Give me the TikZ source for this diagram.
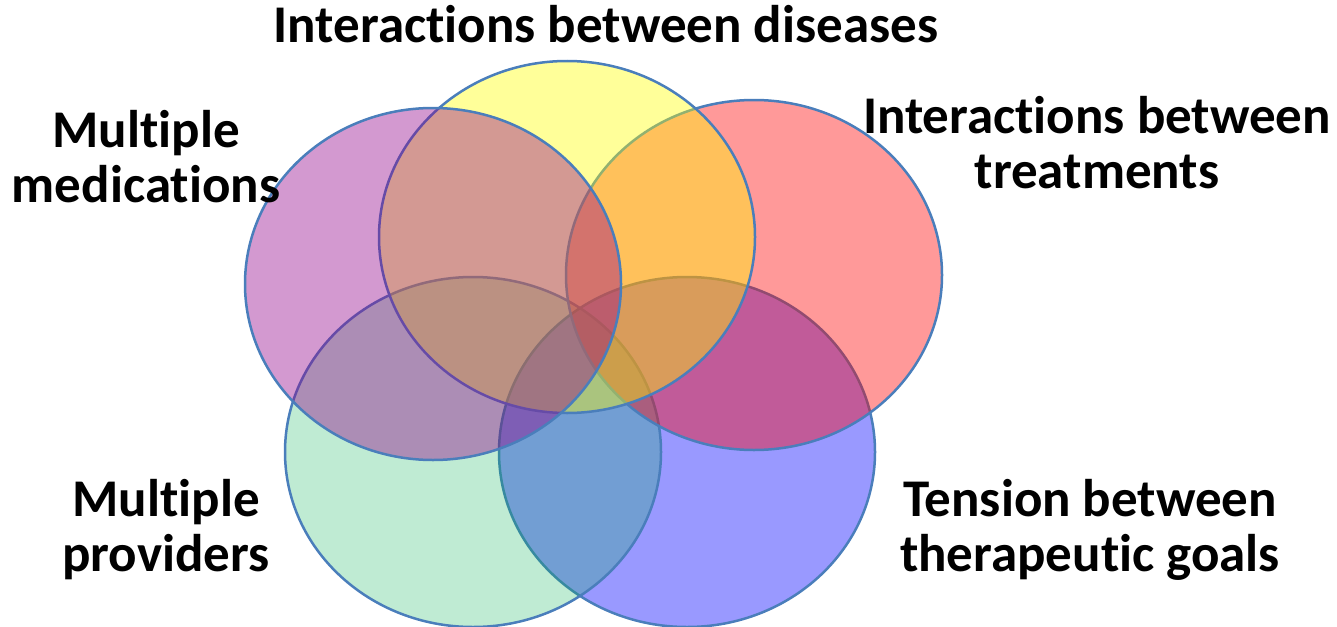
\documentclass[tikz,border=0pt]{standalone}
\usepackage{fontspec}
\setmainfont{Carlito}[Ligatures={NoCommon}]
\usetikzlibrary{shapes.geometric}
\definecolor{outl}{HTML}{4A7EBB}
\definecolor{cyel}{HTML}{FFFF00}
\definecolor{cmag}{RGB}{145,0,138}
\definecolor{cred}{HTML}{FF0000}
\definecolor{cgrn}{HTML}{00B050}
\definecolor{cblu}{HTML}{0000FF}
\tikzset{
  venn/.style={ellipse, draw=outl, line width=2.5pt, fill opacity=0.4, inner sep=0pt,
    minimum width=376pt, minimum height=352pt},
  lbl/.style={font=\fontsize{53}{55}\selectfont\bfseries, align=center, anchor=base, inner sep=0pt}
}
\begin{document}
\begin{tikzpicture}[x=1pt,y=-1pt]
\fill[white] (0,0) rectangle (1337,626);
\useasboundingbox (0,0) rectangle (1337,626);
\node[venn, fill=cblu, minimum height=350pt] (blue) at (687,452) {};
\node[venn, fill=cgrn, fill opacity=0.25, minimum height=350pt] (green) at (473,452) {};
\node[venn, fill=cred, minimum height=350pt] (red) at (754,275) {};
\node[venn, fill=cyel] (yellow) at (567,237) {};
\node[venn, fill=cmag] (magenta) at (433,284) {};
\node[lbl] (tdis) at (606,42) {Interactions between diseases};
\node[lbl] (tmed) at (146,202) {Multiple\\medications};
\node[lbl] (ttrt) at (1097,188) {Interactions between\\treatments};
\node[lbl] (tprv) at (166,571) {Multiple\\providers};
\node[lbl] (tgoal) at (1090,571) {Tension between\\therapeutic goals};
\end{tikzpicture}
\end{document}
